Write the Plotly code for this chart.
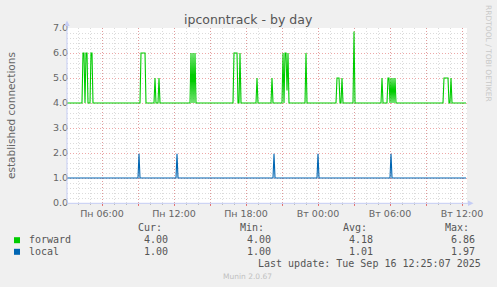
import plotly.graph_objects as go

# ---------------- data ----------------
FORWARD_T = [
    "2025-09-15 03:05", "2025-09-15 04:20", "2025-09-15 04:25", "2025-09-15 04:30", "2025-09-15 04:35",
    "2025-09-15 04:40", "2025-09-15 04:45", "2025-09-15 04:50", "2025-09-15 05:00", "2025-09-15 05:05",
    "2025-09-15 05:10", "2025-09-15 05:15", "2025-09-15 09:10", "2025-09-15 09:15", "2025-09-15 09:35",
    "2025-09-15 09:40", "2025-09-15 10:20", "2025-09-15 10:25", "2025-09-15 10:30", "2025-09-15 10:40",
    "2025-09-15 10:45", "2025-09-15 10:50", "2025-09-15 13:20", "2025-09-15 13:25", "2025-09-15 13:30",
    "2025-09-15 13:35", "2025-09-15 13:40", "2025-09-15 13:45", "2025-09-15 13:50", "2025-09-15 16:55",
    "2025-09-15 17:00", "2025-09-15 17:15", "2025-09-15 17:20", "2025-09-15 17:25", "2025-09-15 17:30",
    "2025-09-15 17:35", "2025-09-15 18:50", "2025-09-15 18:55", "2025-09-15 19:00", "2025-09-15 20:05",
    "2025-09-15 20:10", "2025-09-15 20:15", "2025-09-15 21:00", "2025-09-15 21:05", "2025-09-15 21:10",
    "2025-09-15 21:15", "2025-09-15 21:20", "2025-09-15 21:25", "2025-09-15 21:30", "2025-09-15 21:35",
    "2025-09-15 22:55", "2025-09-15 23:00", "2025-09-15 23:05", "2025-09-16 01:30", "2025-09-16 01:35",
    "2025-09-16 01:45", "2025-09-16 01:50", "2025-09-16 01:55", "2025-09-16 02:00", "2025-09-16 02:05",
    "2025-09-16 02:55", "2025-09-16 03:00", "2025-09-16 03:05", "2025-09-16 05:15", "2025-09-16 05:20",
    "2025-09-16 05:25", "2025-09-16 05:45", "2025-09-16 05:50", "2025-09-16 05:55", "2025-09-16 06:00",
    "2025-09-16 06:05", "2025-09-16 06:10", "2025-09-16 06:15", "2025-09-16 06:20", "2025-09-16 06:25",
    "2025-09-16 06:30", "2025-09-16 10:25", "2025-09-16 10:30", "2025-09-16 10:50", "2025-09-16 10:55",
    "2025-09-16 11:00", "2025-09-16 11:05", "2025-09-16 11:10", "2025-09-16 12:20",
]
FORWARD_V = [
    4, 4, 6, 6, 4,
    6, 6, 4, 4, 6,
    6, 4, 4, 6, 6,
    4, 4, 5, 4, 4,
    5, 4, 4, 6, 4,
    6, 4, 6, 4, 4,
    6, 6, 4, 4, 6,
    4, 4, 5, 4, 4,
    5, 4, 4, 6, 4,
    6, 6, 4.5, 6, 4,
    4, 6, 4, 4, 5,
    5, 4, 4, 5, 4,
    4, 6.86, 4, 4, 5,
    4, 4, 5, 5, 4,
    5, 4, 5, 4, 5,
    4, 4, 5, 5, 4,
    4, 5, 4, 4,
]

LOCAL_T = [
    "2025-09-15 03:05", "2025-09-15 09:00", "2025-09-15 09:05", "2025-09-15 09:10",
    "2025-09-15 12:10", "2025-09-15 12:15", "2025-09-15 12:20",
    "2025-09-15 20:15", "2025-09-15 20:20", "2025-09-15 20:25",
    "2025-09-15 23:55", "2025-09-16 00:00", "2025-09-16 00:05",
    "2025-09-16 06:00", "2025-09-16 06:05", "2025-09-16 06:10",
    "2025-09-16 12:20",
]
LOCAL_V = [1, 1, 1.97, 1, 1, 1.97, 1, 1, 1.97, 1, 1, 1.97, 1, 1, 1.97, 1, 1]

SERIES_NAMES = ["forward", "local"]
SERIES_COLORS = ["#00CC00", "#0066B3"]
CUR = ["4.00", "1.00"]
MIN = ["4.00", "1.00"]
AVG = ["4.18", "1.01"]
MAX = ["6.86", "1.97"]

X_TICKVALS = [
    "2025-09-15 06:00", "2025-09-15 09:00", "2025-09-15 12:00", "2025-09-15 15:00",
    "2025-09-15 18:00", "2025-09-15 21:00", "2025-09-16 00:00", "2025-09-16 03:00",
    "2025-09-16 06:00", "2025-09-16 09:00", "2025-09-16 12:00",
]
X_TICKTEXT = ["Пн 06:00", "", "Пн 12:00", "", "Пн 18:00", "", "Вт 00:00", "", "Вт 06:00", "", "Вт 12:00"]
X_RANGE = ["2025-09-15 03:05", "2025-09-16 12:25"]
Y_RANGE = [0, 7]

TITLE = "ipconntrack - by day"
Y_TITLE = "established connections"
LAST_UPDATE = "Last update: Tue Sep 16 12:25:07 2025"
SIDE_TEXT = "RRDTOOL / TOBI OETIKER"
FOOTER = "Munin 2.0.67"

# ---------------- layout helpers ----------------
W, H = 497, 287
L, R, T, B = 67, 30, 28, 84
PW, PH = W - L - R, H - T - B


def px(x):
    return (x - L) / PW


def py(y):
    return (T + PH - y) / PH


FONT = "DejaVu Sans"
MONO = "DejaVu Sans Mono"
FC = "#666666"
MAJOR = "rgba(225,110,110,0.6)"
MINOR = "rgba(175,175,175,0.45)"
AXISC = "#C5CDF5"

fig = go.Figure()
fig.add_trace(go.Scatter(x=FORWARD_T, y=FORWARD_V, mode="lines", name=SERIES_NAMES[0],
                         line=dict(color=SERIES_COLORS[0], width=1.1), showlegend=False))
fig.add_trace(go.Scatter(x=LOCAL_T, y=LOCAL_V, mode="lines", name=SERIES_NAMES[1],
                         line=dict(color=SERIES_COLORS[1], width=1.1), showlegend=False))

fig.update_layout(
    width=W, height=H,
    margin=dict(l=L, r=R, t=T, b=B, pad=0),
    paper_bgcolor="#F0F0F0",
    plot_bgcolor="#FFFFFF",
    font=dict(family=FONT, size=9.5, color=FC),
    showlegend=False,
)

fig.update_xaxes(
    type="date", range=X_RANGE,
    tickmode="array", tickvals=X_TICKVALS, ticktext=X_TICKTEXT,
    showgrid=True, gridcolor=MAJOR, griddash="1px,2px", gridwidth=1,
    ticks="outside", ticklen=2, tickcolor="rgba(230,90,90,0.8)",
    tickfont=dict(family=FONT, size=9.5, color=FC),
    showline=False, zeroline=False,
    minor=dict(dtick=3600000, tick0="2025-09-15 00:00", showgrid=True,
               gridcolor=MINOR, griddash="1px,2px", gridwidth=1,
               ticks="outside", ticklen=1, tickcolor="#BBBBBB"),
)
fig.update_yaxes(
    range=Y_RANGE, dtick=1, tick0=0, tickformat=".1f",
    showgrid=True, gridcolor=MAJOR, griddash="1px,2px", gridwidth=1,
    ticks="", tickfont=dict(family=FONT, size=9.5, color=FC),
    ticklabelstandoff=-2,
    showline=False, zeroline=False,
    minor=dict(dtick=0.2, showgrid=True, gridcolor=MINOR, griddash="1px,2px", gridwidth=1),
)

shapes = []
# axes lines with arrows
shapes.append(dict(type="line", xref="paper", yref="paper", x0=px(67), x1=px(67), y0=py(203.3), y1=py(24),
                   line=dict(color=AXISC, width=1)))
shapes.append(dict(type="line", xref="paper", yref="paper", x0=px(67), x1=px(469), y0=py(203.3), y1=py(203.3),
                   line=dict(color=AXISC, width=1)))
shapes.append(dict(type="path", xref="paper", yref="paper",
                   path=f"M {px(64.3)} {py(26)} L {px(67)} {py(20.5)} L {px(69.7)} {py(26)} Z",
                   fillcolor=AXISC, line=dict(width=0)))
shapes.append(dict(type="path", xref="paper", yref="paper",
                   path=f"M {px(468)} {py(200.6)} L {px(473.5)} {py(203.3)} L {px(468)} {py(206)} Z",
                   fillcolor=AXISC, line=dict(width=0)))
# legend swatches
for i, yc in enumerate([240.2, 251.8]):
    shapes.append(dict(type="rect", xref="paper", yref="paper",
                       x0=px(14), x1=px(20), y0=py(yc + 3), y1=py(yc - 3),
                       fillcolor=SERIES_COLORS[i], line=dict(width=0)))
fig.update_layout(shapes=shapes)

ann = []
ann.append(dict(text=TITLE, x=px(248.5), y=py(19.5), xref="paper", yref="paper", showarrow=False,
                xanchor="center", yanchor="middle", font=dict(family=FONT, size=12.5, color="#555555")))
ann.append(dict(text=Y_TITLE, x=px(11), y=py(115), xref="paper", yref="paper", showarrow=False,
                textangle=-90, xanchor="center", yanchor="middle", font=dict(family=FONT, size=10.5, color=FC)))
ann.append(dict(text=SIDE_TEXT, x=px(488.5), y=py(53.5), xref="paper", yref="paper", showarrow=False,
                textangle=90, xanchor="center", yanchor="middle", font=dict(family=FONT, size=7.5, color="#C8C8C8")))
ann.append(dict(text=FOOTER, x=px(247.7), y=py(276), xref="paper", yref="paper", showarrow=False,
                xanchor="center", yanchor="middle", font=dict(family=FONT, size=7.5, color="#C0C0C0")))

headers = ["Cur:", "Min:", "Avg:", "Max:"]
head_right = [163.5, 266, 368.5, 470.5]
val_right = [169.5, 272.5, 375, 476.5]
cols = [CUR, MIN, AVG, MAX]
mono = dict(family=MONO, size=10, color="#555555")
for h, xr in zip(headers, head_right):
    ann.append(dict(text=h, x=px(xr), y=py(227.5), xref="paper", yref="paper", showarrow=False,
                    xanchor="right", yanchor="middle", font=mono))
for i, yc in enumerate([239.8, 251.7]):
    ann.append(dict(text=SERIES_NAMES[i], x=px(26.5), y=py(yc), xref="paper", yref="paper", showarrow=False,
                    xanchor="left", yanchor="middle", font=mono))
    for col, xr in zip(cols, val_right):
        ann.append(dict(text=col[i], x=px(xr), y=py(yc), xref="paper", yref="paper", showarrow=False,
                        xanchor="right", yanchor="middle", font=mono))
ann.append(dict(text=LAST_UPDATE, x=px(482.5), y=py(263.5), xref="paper", yref="paper", showarrow=False,
                xanchor="right", yanchor="middle", font=mono))
fig.update_layout(annotations=ann)

fig.write_html("out.html")
